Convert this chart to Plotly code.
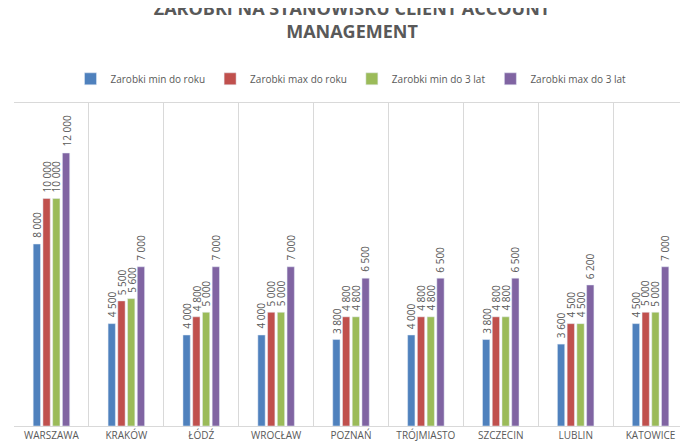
import plotly.graph_objects as go

miasta = ["WARSZAWA", "KRAKÓW", "ŁÓDŹ", "WROCŁAW", "POZNAŃ", "TRÓJMIASTO", "SZCZECIN", "LUBLIN", "KATOWICE"]
serie = {
    "Zarobki min do roku": ([8000, 4500, 4000, 4000, 3800, 4000, 3800, 3600, 4500], "#4F81BD"),
    "Zarobki max do roku": ([10000, 5500, 4800, 5000, 4800, 4800, 4800, 4500, 5000], "#C0504D"),
    "Zarobki min do 3 lat": ([10000, 5600, 5000, 5000, 4800, 4800, 4800, 4500, 5000], "#9BBB59"),
    "Zarobki max do 3 lat": ([12000, 7000, 7000, 7000, 6500, 6500, 6500, 6200, 7000], "#8064A2"),
}

def fmt(v):
    return f"{v:,}".replace(",", " ")

fig = go.Figure()
shifts = [-14.6, -4.9, 4.9, 14.6]
for k, (name, (vals, col)) in enumerate(serie.items()):
    fig.add_bar(x=miasta, y=vals, name=name, marker_color=col)
    for m, v in zip(miasta, vals):
        fig.add_annotation(x=m, y=v, text=fmt(v), showarrow=False, textangle=-90,
                           xshift=shifts[k], yanchor="bottom", yshift=4,
                           font=dict(size=10, color="#595959"))

fig.update_layout(
    width=688, height=446,
    paper_bgcolor="white", plot_bgcolor="white",
    font=dict(family="Open Sans, DejaVu Sans", color="#595959"),
    title=dict(text="<b>ZAROBKI NA STANOWISKU CLIENT ACCOUNT<br>MANAGEMENT</b>",
               x=0.5, y=0.985, xanchor="center", yanchor="top",
               font=dict(size=18, color="#595959")),
    legend=dict(orientation="h", x=0.5, xanchor="center", y=1.03, yanchor="bottom",
                font=dict(size=10, color="#595959"), itemwidth=30),
    margin=dict(l=6, r=8, t=95, b=28),
    barmode="group", bargap=0.48, bargroupgap=0.25,
)
fig.update_xaxes(tickson="boundaries", showgrid=True, gridcolor="#D9D9D9",
                 showline=True, linecolor="#D9D9D9", mirror=True,
                 tickfont=dict(size=10, color="#595959"), ticks="")
fig.update_yaxes(range=[0, 14200], visible=False)
fig.write_html("out.html")
